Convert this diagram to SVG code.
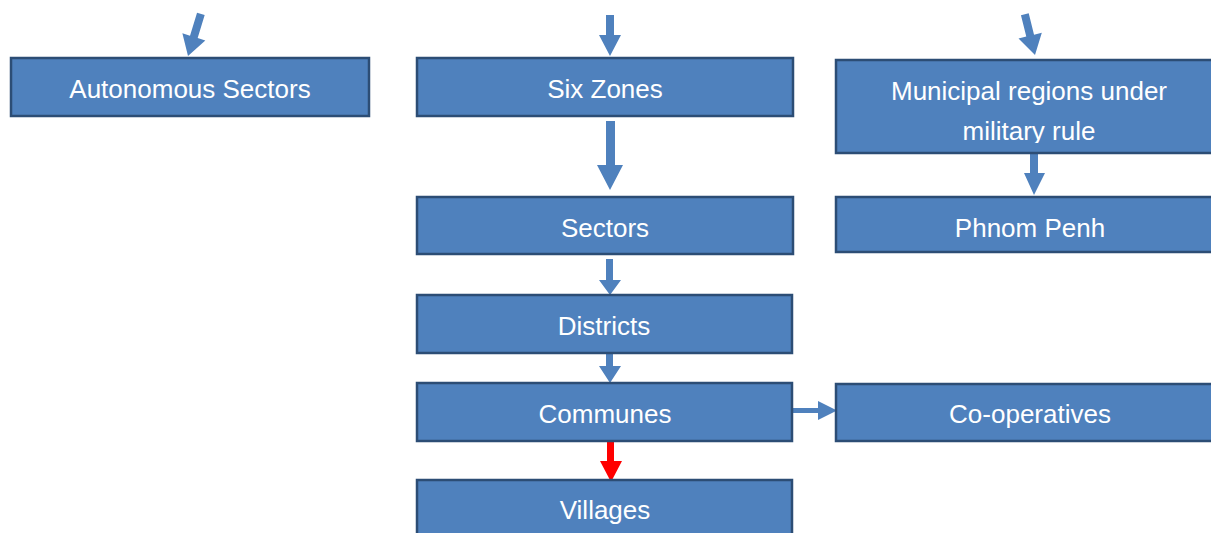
<svg xmlns="http://www.w3.org/2000/svg" width="1211" height="533" viewBox="0 0 1211 533">
<style>
.box{fill:#4F81BD;stroke:#2C4D75;stroke-width:2.5}
.t{font-family:"Liberation Sans",Arial,sans-serif;font-size:26px;fill:#ffffff;text-anchor:middle}
.arr{fill:#4F81BD}
.red{fill:#FF0000}
</style>
<defs>
<clipPath id="mclip"><rect x="836" y="60" width="400" height="83"/></clipPath>
</defs>
<rect width="1211" height="533" fill="#ffffff"/>
<g id="connectors">
<polygon class="arr" points="184,12 192,12 192,36 200,36 188,56 176,36 184,36" transform="rotate(17 188 56)"/>
<polygon class="arr" points="606,15 614,15 614,35 621,35 610,56 599,35 606,35"/>
<polygon class="arr" points="1031,13 1039,13 1039,35 1047,35 1035,55 1023,35 1031,35" transform="rotate(-14 1035 55)"/>
<polygon class="arr" points="606,121 615,121 615,165 623,165 610,190 597,165 606,165"/>
<polygon class="arr" points="1030,153 1038,153 1038,173 1045,173 1034,195 1024,173 1030,173"/>
<polygon class="arr" points="606,259 613,259 613,280 621,280 610,295 599,280 606,280"/>
<polygon class="arr" points="606,353 613,353 613,366 621,366 610,383 599,366 606,366"/>
<polygon class="arr" points="792,408 818,408 818,401 837,410.5 818,420 818,413 792,413"/>
<polygon class="red" points="607,441 614,441 614,461 622,461 611,482 600,461 607,461"/>
</g>
<g id="autonomous"><rect class="box" x="11" y="58" width="358" height="58"/><text class="t" x="190" y="98">Autonomous Sectors</text></g>
<g id="sixzones"><rect class="box" x="417" y="58" width="376" height="58"/><text class="t" x="605" y="98">Six Zones</text></g>
<g id="municipal"><rect class="box" x="836" y="60" width="400" height="93"/><g clip-path="url(#mclip)"><text class="t" x="1029" y="100">Municipal regions under</text><text class="t" x="1029" y="140">military rule</text></g></g>
<g id="sectors"><rect class="box" x="417" y="197" width="376" height="57"/><text class="t" x="605" y="237">Sectors</text></g>
<g id="phnompenh"><rect class="box" x="836" y="197" width="400" height="55"/><text class="t" x="1030" y="237">Phnom Penh</text></g>
<g id="districts"><rect class="box" x="417" y="295" width="375" height="58"/><text class="t" x="604" y="335">Districts</text></g>
<g id="communes"><rect class="box" x="417" y="383" width="375" height="58"/><text class="t" x="605" y="423">Communes</text></g>
<g id="cooperatives"><rect class="box" x="836" y="384" width="400" height="57"/><text class="t" x="1030" y="423">Co-operatives</text></g>
<g id="villages"><rect class="box" x="417" y="480" width="375" height="70"/><text class="t" x="605" y="519">Villages</text></g>
</svg>
